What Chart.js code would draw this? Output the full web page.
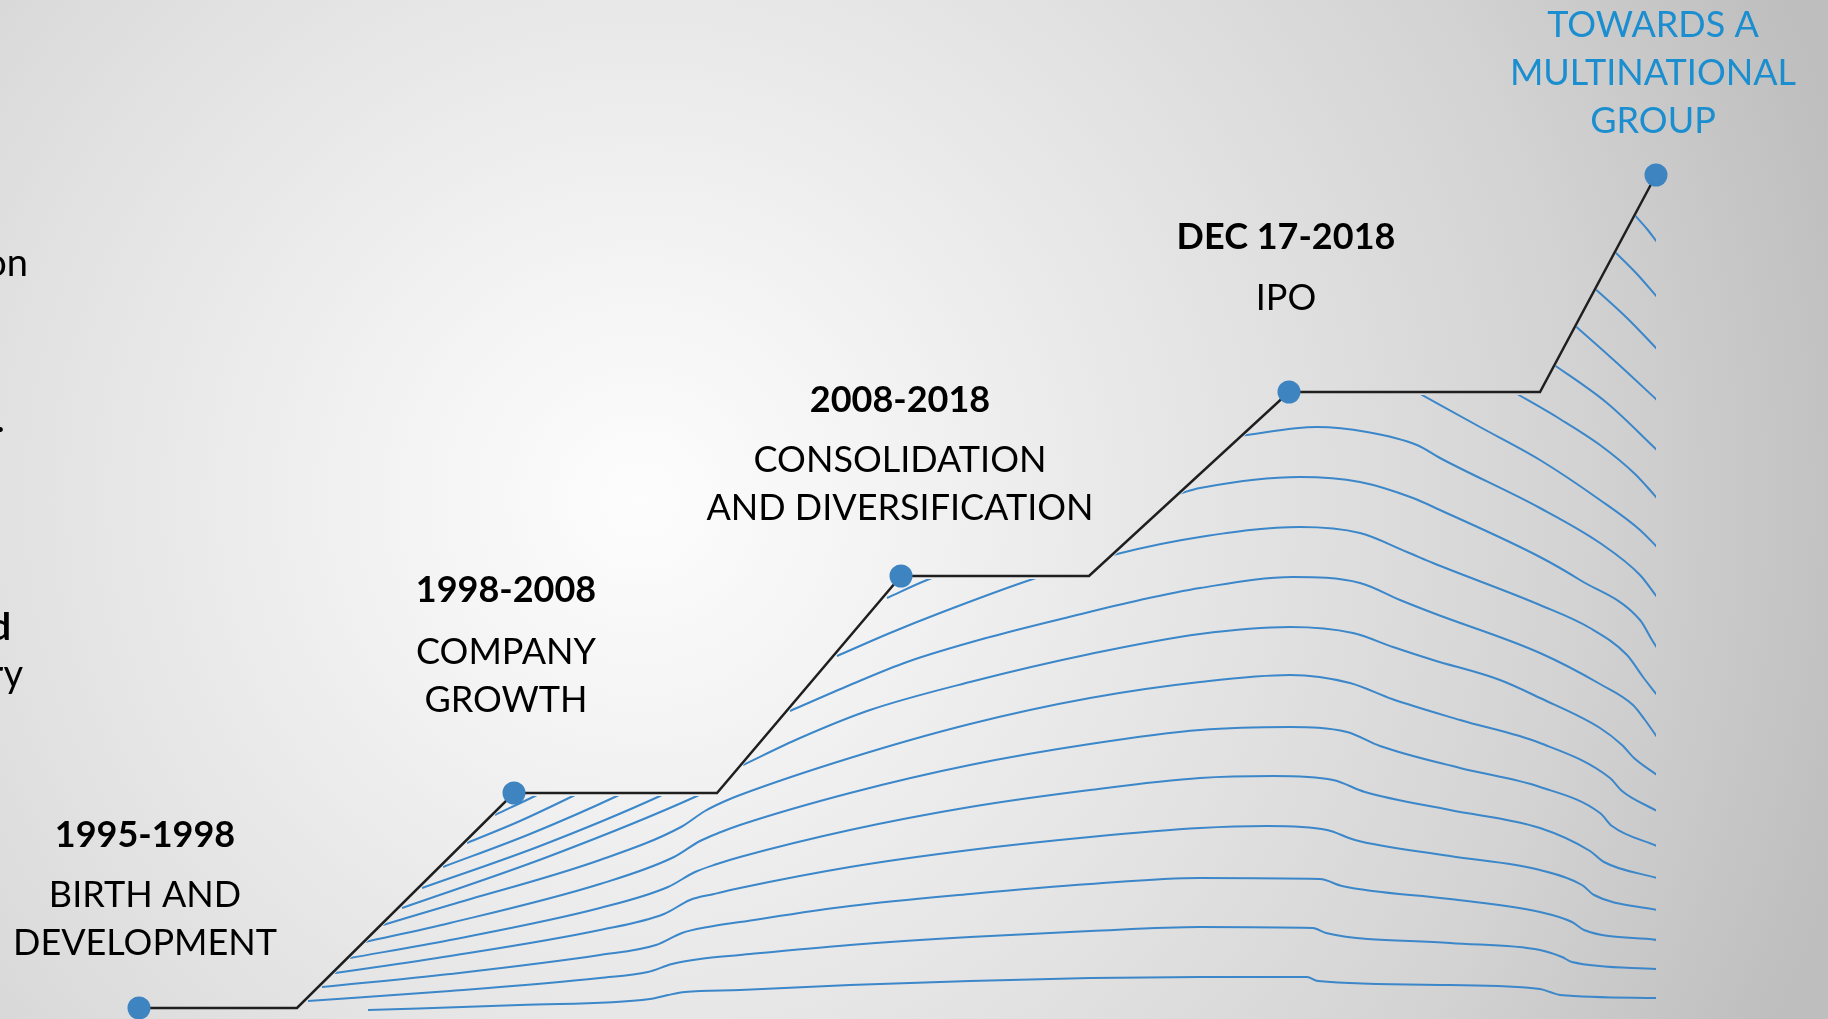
<!DOCTYPE html>
<html>
<head>
<meta charset="utf-8">
<title>Company timeline</title>
<script src="https://cdn.jsdelivr.net/npm/chart.js@4.4.1/dist/chart.umd.min.js"></script>
<style>
  html, body { margin: 0; padding: 0; overflow: hidden; background: #e4e4e4; }
  canvas { display: block; }
</style>
</head>
<body>
<canvas id="timeline" width="1828" height="1019"></canvas>
<script>
// step path of the timeline (slide units, y grows downward)
const stepX = [139, 297, 514, 717, 901, 1089, 1289, 1540, 1656];
const stepY = [1008, 1008, 793, 793, 576, 576, 392, 392, 175];
const milestoneIdx = [0, 2, 4, 6, 8];

// milestone texts
const periods = ['1995-1998', '1998-2008', '2008-2018', 'DEC 17-2018', ''];
const phases = [
  ['BIRTH AND', 'DEVELOPMENT'],
  ['COMPANY', 'GROWTH'],
  ['CONSOLIDATION', 'AND DIVERSIFICATION'],
  ['IPO'],
  ['TOWARDS A', 'MULTINATIONAL', 'GROUP']
];

// clipped text of the neighbouring slide column
const sideText = ['on', '.', 'd', 'ry'];

// decorative flow lines under the path, bottom to top
const waves = [
  [[368,1010],[520,1005],[650,999],[668,995],[685,992],[740,990],[850,985],[970,981],[1090,978],[1200,977],[1307,977],[1318,981],[1450,985],[1540,989],[1550,992],[1560,995],[1657,998]],
  [[308,1001],[450,991],[600,978],[648,972],[672,964],[700,959],[740,955],[850,945],[970,937],[1090,931],[1200,927],[1313,928],[1326,933],[1450,943],[1540,950],[1562,957],[1572,962],[1657,969]],
  [[322,987],[450,974],[600,955],[656,945],[682,933],[708,927],[740,922],[850,906],[970,894],[1090,884],[1200,878],[1320,879],[1342,886],[1450,899],[1540,912],[1572,922],[1584,930],[1657,940]],
  [[335,973],[450,956],[600,930],[664,914],[690,900],[714,894],[740,888],[850,867],[970,850],[1090,837],[1200,828],[1267,826],[1327,830],[1355,840],[1450,856],[1540,870],[1582,885],[1594,895],[1657,910]],
  [[350,958],[450,940],[600,908],[668,887],[695,872],[717,864],[740,857],[850,830],[970,807],[1090,790],[1200,778],[1273,776],[1333,780],[1365,792],[1450,810],[1540,828],[1590,851],[1604,862],[1657,878]],
  [[365,942],[450,923],[600,884],[674,857],[700,841],[721,832],[740,825],[850,793],[970,765],[1090,744],[1200,730],[1290,727],[1347,732],[1380,746],[1460,768],[1540,787],[1600,813],[1612,826],[1657,846]],
  [[383,925],[450,905],[600,860],[681,827],[705,811],[723,802],[740,795],[850,758],[970,724],[1090,698],[1200,682],[1290,675],[1350,683],[1392,699],[1460,720],[1540,743],[1610,778],[1622,791],[1657,811]],
  [[402,908],[550,856],[697,796],[707,791]],
  [[422,888],[540,846],[660,796],[670,791]],
  [[443,867],[530,834],[617,796],[627,791]],
  [[467,843],[520,821],[573,796],[583,791]],
  [[495,815],[535,796],[545,791]],
  [[743,765],[800,738],[870,710],[970,682],[1090,654],[1200,634],[1290,627],[1353,633],[1393,647],[1433,660],[1500,680],[1540,698],[1600,728],[1622,745],[1634,758],[1657,775]],
  [[790,711],[850,685],[907,662],[990,637],[1073,616],[1140,600],[1200,588],[1293,577],[1360,583],[1400,600],[1433,613],[1540,653],[1600,684],[1633,705],[1645,720],[1657,737]],
  [[837,656],[890,633],[940,613],[1033,579],[1117,554],[1200,537],[1300,527],[1360,533],[1407,552],[1433,563],[1540,605],[1590,628],[1627,655],[1643,677],[1657,695]],
  [[887,598],[927,580],[1056,536],[1185,492],[1200,488],[1300,477],[1360,482],[1413,498],[1440,510],[1540,557],[1580,580],[1640,620],[1652,640],[1657,648]],
  [[1240,436],[1317,427],[1367,432],[1417,445],[1440,458],[1540,508],[1600,543],[1640,575],[1657,597]],
  [[1415,391],[1480,427],[1540,460],[1600,500],[1640,530],[1657,547]],
  [[1512,391],[1560,419],[1600,445],[1635,474],[1657,498]],
  [[1550,362],[1607,403],[1657,450]],
  [[1572,323],[1617,363],[1657,400]],
  [[1592,286],[1627,318],[1657,349]],
  [[1612,249],[1637,274],[1657,297]],
  [[1632,212],[1647,229],[1657,242]]
];

// where the texts sit (baselines)
const labelLayout = [
  { x: 145, head: 847, body: [907, 955] },
  { x: 506, head: 602, body: [664, 712] },
  { x: 900, head: 412, body: [472, 520] },
  { x: 1286, head: 249, body: [310] },
  { x: 1653, head: null, body: [37, 85, 133], color: '#1b8ed0' }
];
const sideLayout = [
  { x: 28, y: 276, font: '38px Lato' },
  { x: 5, y: 432, font: '38px Lato' },
  { x: 11, y: 640, font: 'bold 38px Lato' },
  { x: 23, y: 687, font: '38px Lato' }
];

const backgroundPlugin = {
  id: 'slideBackground',
  beforeDraw(chart) {
    const { ctx, width, height } = chart;
    const g = ctx.createRadialGradient(640, 500, 0, 640, 500, 1250);
    g.addColorStop(0, '#fdfdfd');
    g.addColorStop(0.2, '#f3f3f3');
    g.addColorStop(0.5, '#e2e2e2');
    g.addColorStop(0.75, '#d3d3d3');
    g.addColorStop(1, '#bebebe');
    ctx.save();
    ctx.fillStyle = g;
    ctx.fillRect(0, 0, width, height);
    ctx.restore();
  }
};

// keep the flow lines under the step path
const underPathPlugin = {
  id: 'underPath',
  beforeDatasetDraw(chart, args) {
    if (!chart.data.datasets[args.index].isWave) return;
    const { ctx } = chart;
    const xs = chart.scales.x, ys = chart.scales.y;
    const bottom = chart.height + 20;
    ctx.save();
    ctx.beginPath();
    ctx.moveTo(xs.getPixelForValue(stepX[0]), bottom);
    stepX.forEach((x, i) => ctx.lineTo(xs.getPixelForValue(x), ys.getPixelForValue(stepY[i]) + 3));
    ctx.lineTo(xs.getPixelForValue(stepX[stepX.length - 1]), bottom);
    ctx.closePath();
    ctx.clip();
  },
  afterDatasetDraw(chart, args) {
    if (chart.data.datasets[args.index].isWave) chart.ctx.restore();
  }
};

const labelsPlugin = {
  id: 'milestoneLabels',
  afterDraw(chart) {
    const { ctx } = chart;
    ctx.save();
    ctx.textAlign = 'center';
    ctx.textBaseline = 'alphabetic';
    labelLayout.forEach((pos, i) => {
      ctx.fillStyle = pos.color || '#000000';
      if (pos.head !== null && periods[i]) {
        ctx.font = 'bold 36px Lato';
        ctx.fillText(periods[i], pos.x, pos.head);
      }
      ctx.font = '36px Lato';
      phases[i].forEach((line, j) => ctx.fillText(line, pos.x, pos.body[j]));
    });
    ctx.textAlign = 'right';
    ctx.fillStyle = '#000000';
    sideText.forEach((t, i) => {
      ctx.font = sideLayout[i].font;
      ctx.fillText(t, sideLayout[i].x, sideLayout[i].y);
    });
    ctx.restore();
  }
};

const toPoints = arr => arr.map(([x, y]) => ({ x, y }));

const datasets = [{
  label: 'milestones',
  data: stepX.map((x, i) => ({ x, y: stepY[i] })),
  borderColor: '#1f1f1f',
  borderWidth: 2.5,
  tension: 0,
  pointRadius: stepX.map((_, i) => milestoneIdx.includes(i) ? 11.5 : 0),
  pointHoverRadius: stepX.map((_, i) => milestoneIdx.includes(i) ? 11.5 : 0),
  pointBackgroundColor: '#3d84c1',
  pointBorderWidth: 0,
  order: 0
}];

waves.forEach((w, i) => {
  datasets.push({
    label: 'wave ' + (i + 1),
    data: toPoints(w),
    isWave: true,
    borderColor: '#3b87c9',
    borderWidth: 2,
    pointRadius: 0,
    cubicInterpolationMode: 'monotone',
    order: 1
  });
});

new Chart(document.getElementById('timeline'), {
  type: 'line',
  data: { datasets },
  options: {
    responsive: false,
    animation: false,
    devicePixelRatio: 1,
    layout: { padding: 0, autoPadding: false },
    events: [],
    plugins: { legend: { display: false }, tooltip: { enabled: false } },
    scales: {
      x: { type: 'linear', min: 0, max: 1828, display: false },
      y: { type: 'linear', min: 0, max: 1019, reverse: true, display: false }
    }
  },
  plugins: [backgroundPlugin, underPathPlugin, labelsPlugin]
});
</script>
</body>
</html>
